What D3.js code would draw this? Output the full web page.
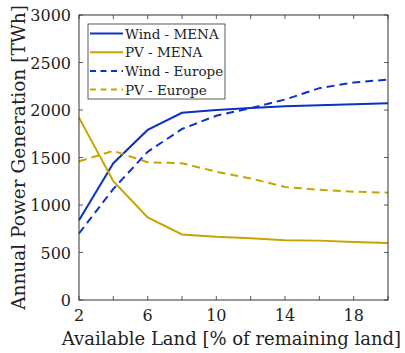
<!DOCTYPE html>
<html>
<head>
<meta charset="utf-8">
<script src="https://cdn.jsdelivr.net/npm/d3@7"></script>
<style>
  body { margin: 0; background: #fff; }
</style>
</head>
<body>
<div id="chart"></div>
<script>
// available land [% of remaining land]
const land = [2, 4, 6, 8, 10, 12, 14, 16, 18, 20];

const windMena = [840, 1440, 1790, 1970, 2000, 2020, 2040, 2050, 2060, 2070];
const pvMena = [1920, 1250, 870, 690, 665, 650, 630, 625, 610, 600];
const windEurope = [700, 1170, 1560, 1800, 1940, 2020, 2110, 2230, 2290, 2320];
const pvEurope = [1460, 1570, 1450, 1440, 1350, 1280, 1190, 1160, 1140, 1130];

const xTickLabels = [2, 6, 10, 14, 18];
const yTicks = [0, 500, 1000, 1500, 2000, 2500, 3000];

const blue = "#0a32c8";
const gold = "#c9a400";
const font = "'DejaVu Serif', 'Liberation Serif', serif";

const series = [
    { name: "Wind - MENA", values: windMena, color: blue, dash: null },
    { name: "PV - MENA", values: pvMena, color: gold, dash: null },
    { name: "Wind - Europe", values: windEurope, color: blue, dash: "8,5" },
    { name: "PV - Europe", values: pvEurope, color: gold, dash: "8,5" }
];

const width = 405, height = 353;
const margin = { top: 15, right: 17, bottom: 53, left: 79 };

const svg = d3.select("#chart").append("svg")
    .attr("width", width)
    .attr("height", height)
    .attr("font-family", font);

const x = d3.scaleLinear().domain([2, 20]).range([margin.left, width - margin.right]);
const y = d3.scaleLinear().domain([0, 3000]).range([height - margin.bottom, margin.top]);

const x0 = x.range()[0], x1 = x.range()[1];
const y0 = y.range()[0], y1 = y.range()[1];

// ticks (inward, all four sides)
const tickLen = 4;
const g = svg.append("g").attr("stroke", "#333").attr("stroke-width", 0.8);
d3.range(2, 21, 2).forEach(v => {
    g.append("line").attr("x1", x(v)).attr("x2", x(v)).attr("y1", y0).attr("y2", y0 - tickLen);
    g.append("line").attr("x1", x(v)).attr("x2", x(v)).attr("y1", y1).attr("y2", y1 + tickLen);
});
yTicks.forEach(v => {
    g.append("line").attr("x1", x0).attr("x2", x0 + tickLen).attr("y1", y(v)).attr("y2", y(v));
    g.append("line").attr("x1", x1).attr("x2", x1 - tickLen).attr("y1", y(v)).attr("y2", y(v));
});

// lines
const line = d3.line().x((d, i) => x(land[i])).y(d => y(d));
series.forEach(s => {
    svg.append("path")
        .attr("d", line(s.values))
        .attr("fill", "none")
        .attr("stroke", s.color)
        .attr("stroke-width", 2)
        .attr("stroke-dasharray", s.dash);
});

// frame
svg.append("rect")
    .attr("x", x0).attr("y", y1)
    .attr("width", x1 - x0).attr("height", y0 - y1)
    .attr("fill", "none").attr("stroke", "#333").attr("stroke-width", 1);

// tick labels
svg.selectAll(".xl").data(xTickLabels).enter().append("text")
    .attr("x", d => x(d)).attr("y", y0 + 21)
    .attr("text-anchor", "middle")
    .attr("font-size", 16)
    .attr("fill", "#222")
    .text(d => d);

svg.selectAll(".yl").data(yTicks).enter().append("text")
    .attr("x", x0 - 8).attr("y", d => y(d) + 6)
    .attr("text-anchor", "end")
    .attr("font-size", 16)
    .attr("fill", "#222")
    .text(d => d);

// axis titles
svg.append("text")
    .attr("x", (x0 + x1) / 2 - 2).attr("y", height - 8)
    .attr("text-anchor", "middle")
    .attr("font-size", 18)
    .attr("fill", "#222")
    .text("Available Land [% of remaining land]");

svg.append("text")
    .attr("transform", `translate(25,${(y0 + y1) / 2}) rotate(-90)`)
    .attr("text-anchor", "middle")
    .attr("font-size", 18.5)
    .attr("fill", "#222")
    .text("Annual Power Generation [TWh]");

// legend
const lg = svg.append("g").attr("transform", "translate(88,24)");
lg.append("rect")
    .attr("width", 137).attr("height", 75)
    .attr("fill", "#fff").attr("stroke", "#333").attr("stroke-width", 0.8);
series.forEach((s, i) => {
    const yy = 9.5 + i * 18.7;
    lg.append("line")
        .attr("x1", 2).attr("x2", 35).attr("y1", yy).attr("y2", yy)
        .attr("stroke", s.color).attr("stroke-width", 2)
        .attr("stroke-dasharray", s.dash ? "6,4.5" : null);
    lg.append("text")
        .attr("x", 37).attr("y", yy + 5)
        .attr("font-size", 13.5)
        .attr("fill", "#222")
        .text(s.name);
});
</script>
</body>
</html>
